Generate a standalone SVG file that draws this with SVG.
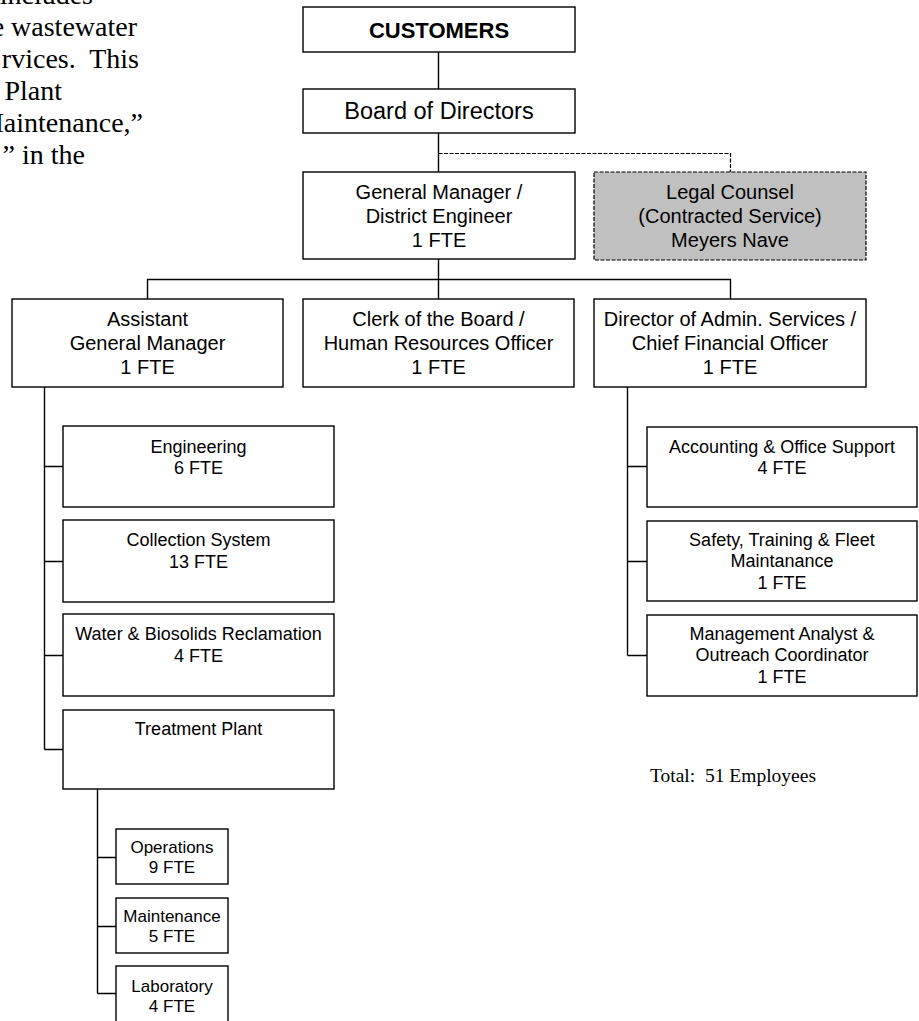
<svg xmlns="http://www.w3.org/2000/svg" width="919" height="1021" viewBox="0 0 919 1021">
<style>
.box{fill:#fff;stroke:#000;stroke-width:1.4}
.legal{fill:#c0c0c0;stroke:#000;stroke-width:1.2;stroke-dasharray:4 1.5}
.c{fill:none;stroke:#000;stroke-width:1.4}
.d{fill:none;stroke:#000;stroke-width:1.2;stroke-dasharray:4 1.5}
text{font-family:"Liberation Sans",Arial,sans-serif;fill:#000;text-anchor:middle}
.f20{font-size:20px}
.f18{font-size:18px}
.f17{font-size:17px}
.tm{font-family:"Liberation Serif","Times New Roman",serif;font-size:28px;text-anchor:end}
.tot{font-family:"Liberation Serif","Times New Roman",serif;font-size:19.5px;text-anchor:start}
</style>
<g id="intro-text">
<text class="tm" x="93" y="4">includes</text>
<text class="tm" x="137" y="35.5">e wastewater</text>
<text class="tm" x="139" y="67.5" xml:space="preserve">rvices.  This</text>
<text class="tm" x="62" y="100">Plant</text>
<text class="tm" x="143" y="132">Maintenance,”</text>
<text class="tm" x="85" y="164">” in the</text>
</g>
<g id="connectors">
<path class="c" d="M438.5 52V89M438.5 133V172M438.5 259V279.5M147.5 299V279.5H730.5V299M438.5 279.5V299"/>
<path class="d" d="M438.5 153.5H730.5V172"/>
<path class="c" d="M44.5 387V749.5M44.5 466.5H63M44.5 561.5H63M44.5 655.5H63M44.5 749.5H63"/>
<path class="c" d="M97.5 789V993.5M97.5 857.5H116M97.5 926.5H116M97.5 993.5H116"/>
<path class="c" d="M627.5 387V655.5M627.5 466.5H647M627.5 561.5H647M627.5 655.5H647"/>
</g>
<g id="customers">
<rect class="box" x="303" y="7" width="272" height="45"/>
<text x="439" y="37.5" style="font-size:22px;font-weight:bold">CUSTOMERS</text>
</g>
<g id="board">
<rect class="box" x="303" y="89" width="272" height="44"/>
<text x="439" y="119" style="font-size:23.5px">Board of Directors</text>
</g>
<g id="gm">
<rect class="box" x="303" y="172" width="272" height="87"/>
<text class="f20" x="439" y="199">General Manager /</text>
<text class="f20" x="439" y="223">District Engineer</text>
<text class="f20" x="439" y="247">1 FTE</text>
</g>
<g id="legal">
<rect class="legal" x="594" y="172" width="272" height="88"/>
<text class="f20" x="730" y="199">Legal Counsel</text>
<text class="f20" x="730" y="223">(Contracted Service)</text>
<text class="f20" x="730" y="247">Meyers Nave</text>
</g>
<g id="agm">
<rect class="box" x="12" y="299" width="271" height="88"/>
<text class="f20" x="147.5" y="326">Assistant</text>
<text class="f20" x="147.5" y="350">General Manager</text>
<text class="f20" x="147.5" y="374">1 FTE</text>
</g>
<g id="clerk">
<rect class="box" x="303" y="299" width="271" height="88"/>
<text class="f20" x="438.5" y="326">Clerk of the Board /</text>
<text class="f20" x="438.5" y="350">Human Resources Officer</text>
<text class="f20" x="438.5" y="374">1 FTE</text>
</g>
<g id="director">
<rect class="box" x="594" y="299" width="272" height="88"/>
<text class="f20" x="730" y="326">Director of Admin. Services /</text>
<text class="f20" x="730" y="350">Chief Financial Officer</text>
<text class="f20" x="730" y="374">1 FTE</text>
</g>
<g id="engineering">
<rect class="box" x="63" y="426" width="271" height="81"/>
<text class="f18" x="198.5" y="452.5">Engineering</text>
<text class="f18" x="198.5" y="474">6 FTE</text>
</g>
<g id="collection">
<rect class="box" x="63" y="520" width="271" height="82"/>
<text class="f18" x="198.5" y="546">Collection System</text>
<text class="f18" x="198.5" y="567.5">13 FTE</text>
</g>
<g id="water">
<rect class="box" x="63" y="614" width="271" height="82"/>
<text class="f18" x="198.5" y="640">Water &amp; Biosolids Reclamation</text>
<text class="f18" x="198.5" y="661.5">4 FTE</text>
</g>
<g id="treatment">
<rect class="box" x="63" y="710" width="271" height="79"/>
<text class="f18" x="198.5" y="735">Treatment Plant</text>
</g>
<g id="operations">
<rect class="box" x="116" y="829" width="112" height="55"/>
<text class="f17" x="172" y="853">Operations</text>
<text class="f17" x="172" y="873">9 FTE</text>
</g>
<g id="maintenance">
<rect class="box" x="116" y="898" width="112" height="55"/>
<text class="f17" x="172" y="922">Maintenance</text>
<text class="f17" x="172" y="942">5 FTE</text>
</g>
<g id="laboratory">
<rect class="box" x="116" y="966" width="112" height="60"/>
<text class="f17" x="172" y="992">Laboratory</text>
<text class="f17" x="172" y="1012">4 FTE</text>
</g>
<g id="accounting">
<rect class="box" x="647" y="427" width="270" height="80"/>
<text class="f18" x="782" y="452.5">Accounting &amp; Office Support</text>
<text class="f18" x="782" y="474">4 FTE</text>
</g>
<g id="safety">
<rect class="box" x="647" y="521" width="270" height="80"/>
<text class="f18" x="782" y="546">Safety, Training &amp; Fleet</text>
<text class="f18" x="782" y="567">Maintanance</text>
<text class="f18" x="782" y="588.5">1 FTE</text>
</g>
<g id="management">
<rect class="box" x="647" y="615" width="270" height="81"/>
<text class="f18" x="782" y="640">Management Analyst &amp;</text>
<text class="f18" x="782" y="661">Outreach Coordinator</text>
<text class="f18" x="782" y="682.5">1 FTE</text>
</g>
<g id="total">
<text class="tot" x="650" y="782" xml:space="preserve">Total:  51 Employees</text>
</g>
</svg>
